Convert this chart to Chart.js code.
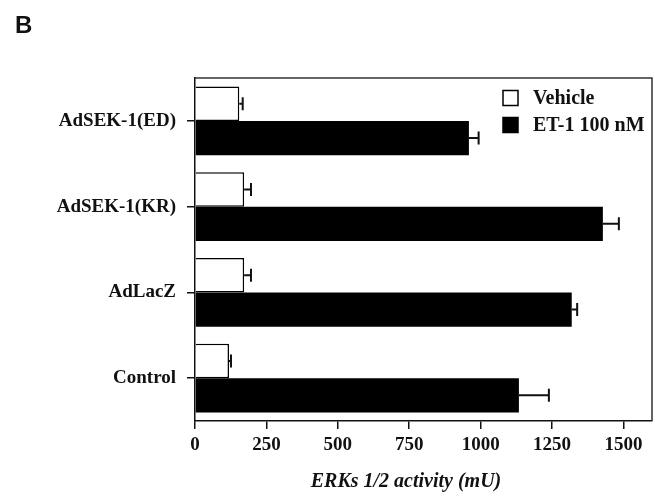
<!DOCTYPE html>
<html>
<head>
<meta charset="utf-8">
<script src="https://cdn.jsdelivr.net/npm/chart.js@4/dist/chart.umd.min.js"></script>
<style>
  html, body { margin: 0; padding: 0; background: #fff; }
  #wrap { position: relative; width: 655px; height: 497px; }
</style>
</head>
<body>
<div id="wrap"><canvas id="c" width="655" height="497"></canvas></div>
<script>
// values (mU)
const groups = ["AdSEK-1(ED)", "AdSEK-1(KR)", "AdLacZ", "Control"];
const vehicle = [155, 172, 172, 119];
const vehicleErr = [12, 24, 24, 7];
const et1 = [959, 1428, 1319, 1134];
const et1Err = [34, 56, 19, 105];
const seriesNames = ["Vehicle", "ET-1 100 nM"];
const xTicks = [0, 250, 500, 750, 1000, 1250, 1500];

const SERIF = "'Liberation Serif', 'Times New Roman', serif";
const INK = "#111";

// one-sided (right) error bars with a cap, placed through the scales
const errorBars = {
  id: "errorBars",
  afterDatasetsDraw(chart) {
    const ctx = chart.ctx;
    const x = chart.scales.x;
    const errs = [vehicleErr, et1Err];
    ctx.save();
    ctx.strokeStyle = INK;
    ctx.lineWidth = 2;
    chart.data.datasets.forEach((ds, di) => {
      chart.getDatasetMeta(di).data.forEach((bar, i) => {
        const x0 = x.getPixelForValue(ds.data[i]);
        const x1 = x.getPixelForValue(ds.data[i] + errs[di][i]);
        const y = bar.y;
        ctx.beginPath();
        ctx.moveTo(x0, y);
        ctx.lineTo(x1, y);
        ctx.moveTo(x1, y - 6.5);
        ctx.lineTo(x1, y + 6.5);
        ctx.stroke();
      });
    });
    ctx.restore();
  },
};

// frame, legend, panel letter and x title
const decor = {
  id: "decor",
  afterDraw(chart) {
    const ctx = chart.ctx;
    const a = chart.chartArea;
    ctx.save();
    ctx.strokeStyle = "#333";
    ctx.lineWidth = 1.5;
    ctx.beginPath();
    ctx.moveTo(a.left, a.top);
    ctx.lineTo(a.right, a.top);
    ctx.lineTo(a.right, a.bottom);
    ctx.stroke();

    // legend
    const lx = 503, ly = [98, 125];
    ctx.font = "bold 20px " + SERIF;
    ctx.textBaseline = "middle";
    seriesNames.forEach((name, i) => {
      ctx.fillStyle = i === 0 ? "#fff" : "#000";
      ctx.fillRect(lx, ly[i] - 7.5, 15, 15);
      ctx.strokeStyle = "#000";
      ctx.lineWidth = 1.5;
      ctx.strokeRect(lx, ly[i] - 7.5, 15, 15);
      ctx.fillStyle = INK;
      ctx.fillText(name, 533, ly[i] + 1);
    });

    ctx.font = "bold 24px 'Liberation Sans', Arial, sans-serif";
    ctx.textBaseline = "alphabetic";
    ctx.fillText("B", 15, 33);

    ctx.font = "italic bold 20px " + SERIF;
    ctx.textAlign = "center";
    ctx.fillText("ERKs 1/2 activity (mU)", 406, 487);
    ctx.restore();
  },
};

new Chart(document.getElementById("c"), {
  type: "bar",
  data: {
    labels: groups,
    datasets: [
      {
        label: seriesNames[0],
        data: vehicle,
        backgroundColor: "#fff",
        borderColor: "#000",
        borderWidth: 1.5,
      },
      {
        label: seriesNames[1],
        data: et1,
        backgroundColor: "#000",
        borderColor: "#000",
        borderWidth: 0,
      },
    ],
  },
  options: {
    indexAxis: "y",
    responsive: false,
    animation: false,
    layout: { padding: { top: 78, right: 3, left: 0, bottom: 0 } },
    datasets: { bar: { categoryPercentage: 0.8, barPercentage: 1.0 } },
    plugins: { legend: { display: false }, tooltip: { enabled: false } },
    scales: {
      x: {
        min: 0,
        max: 1600,
        afterBuildTicks: (s) => { s.ticks = xTicks.map((v) => ({ value: v })); },
        afterFit: (s) => { s.height = 76; },
        border: { color: INK, width: 1.5 },
        grid: { drawOnChartArea: false, tickLength: 8, color: INK, lineWidth: 1.5 },
        ticks: {
          color: INK,
          padding: 5,
          font: { family: SERIF, size: 19, weight: "bold" },
          callback: (v) => String(v),
        },
      },
      y: {
        afterFit: (s) => { s.width = 195; },
        border: { color: INK, width: 1.5 },
        grid: { drawOnChartArea: false, offset: false, tickLength: 8, color: INK, lineWidth: 1.5 },
        ticks: { color: INK, padding: 11, font: { family: SERIF, size: 19, weight: "bold" } },
      },
    },
  },
  plugins: [errorBars, decor],
});
</script>
</body>
</html>
